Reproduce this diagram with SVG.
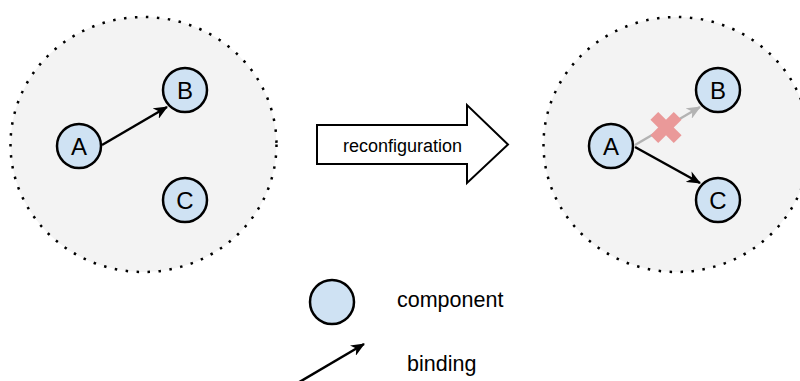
<svg xmlns="http://www.w3.org/2000/svg" width="800" height="381" viewBox="0 0 800 381">
<style>
.sys{fill:#f3f3f3;stroke:#000;stroke-width:2.5;stroke-dasharray:2.5 8.5}
.node{fill:#cfe2f3;stroke:#000;stroke-width:2.5}
.lbl{font-family:"Liberation Sans",Arial,sans-serif;font-size:24px;fill:#000;text-anchor:middle}
.txt{font-family:"Liberation Sans",Arial,sans-serif;fill:#000}
.bind{stroke:#000;stroke-width:2.5;fill:none;marker-end:url(#ah)}
.old{stroke:#b3b3b3;stroke-width:2.5;fill:none;marker-end:url(#ahg)}
</style>
<defs>
<marker id="ah" markerUnits="userSpaceOnUse" viewBox="0 0 14 12" refX="13" refY="6" markerWidth="14" markerHeight="12" orient="auto">
<path d="M0,0 L14,6 L0,12 L4,6 Z" fill="#000"/>
</marker>
<marker id="ahg" markerUnits="userSpaceOnUse" viewBox="0 0 14 12" refX="13" refY="6" markerWidth="14" markerHeight="12" orient="auto">
<path d="M0,0 L14,6 L0,12 L4,6 Z" fill="#b3b3b3"/>
</marker>
</defs>
<g id="system-before">
<ellipse class="sys" cx="143.5" cy="144.5" rx="133" ry="127.5"/>
</g>
<g id="system-after">
<ellipse class="sys" cx="676.5" cy="144.5" rx="133" ry="127.5"/>
</g>
<g id="connectors">
<line class="bind" x1="102" y1="145" x2="167" y2="107"/>
<line class="old" x1="635" y1="145" x2="700" y2="107"/>
<line class="bind" x1="635" y1="147" x2="700" y2="183"/>
<line class="bind" x1="296" y1="384" x2="364" y2="344"/>
</g>
<g id="left-A"><circle class="node" cx="79" cy="146" r="22"/><text class="lbl" x="79" y="154.5">A</text></g>
<g id="left-B"><circle class="node" cx="185" cy="90" r="22"/><text class="lbl" x="185" y="98.5">B</text></g>
<g id="left-C"><circle class="node" cx="185" cy="200" r="22"/><text class="lbl" x="185" y="208.5">C</text></g>
<g id="right-A"><circle class="node" cx="611" cy="146" r="22"/><text class="lbl" x="611" y="154.5">A</text></g>
<g id="right-B"><circle class="node" cx="718" cy="90" r="22"/><text class="lbl" x="718" y="98.5">B</text></g>
<g id="right-C"><circle class="node" cx="718" cy="200" r="22"/><text class="lbl" x="718" y="208.5">C</text></g>
<g id="cross" transform="translate(666,127.5) rotate(45)" fill="#ea9999">
<rect x="-16.5" y="-5.5" width="33" height="11"/>
<rect x="-5.5" y="-16.5" width="11" height="33"/>
</g>
<g id="reconfiguration">
<polygon points="317,125 467,125 467,105 508,144.5 467,183 467,164 317,164" fill="#fff" stroke="#000" stroke-width="2"/>
<text class="txt" x="402.5" y="152" font-size="18" text-anchor="middle">reconfiguration</text>
</g>
<g id="legend-component">
<circle class="node" cx="332" cy="302" r="22"/>
<text class="txt" x="397" y="307" font-size="21.5">component</text>
</g>
<g id="legend-binding">
<text class="txt" x="407" y="371" font-size="21.5">binding</text>
</g>
</svg>
